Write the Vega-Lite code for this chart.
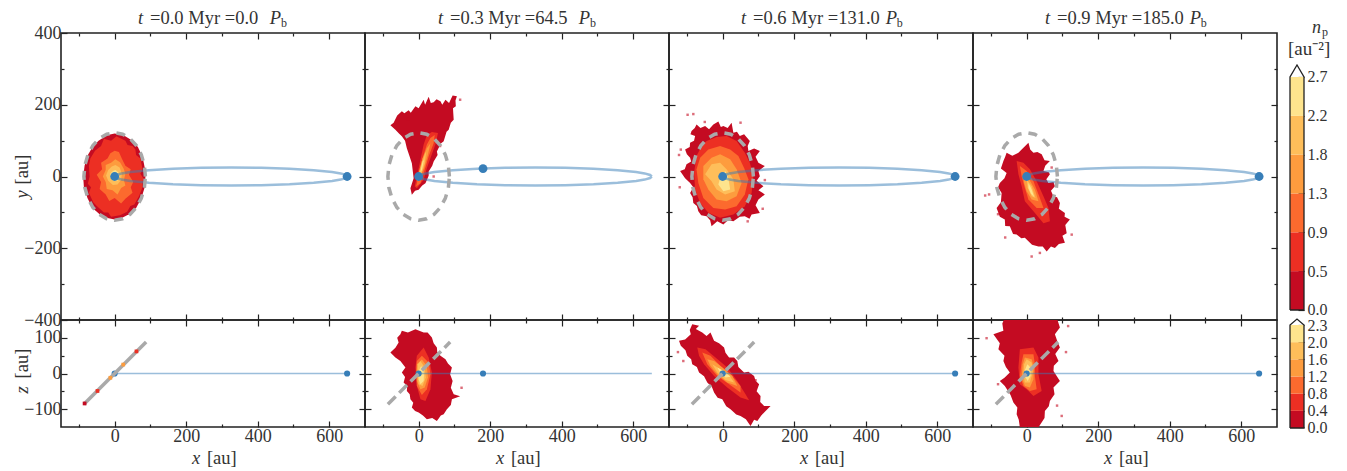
{"$schema":"https://vega.github.io/schema/vega-lite/v6.json","padding":{"left":12,"top":8,"right":0,"bottom":0},"background":"white","config":{"view":{"stroke":"#222","strokeWidth":1.6},"axis":{"grid":false,"domain":false,"tickColor":"#222","tickWidth":1.2,"labelFont":"Liberation Serif","labelColor":"#333","labelFontSize":18,"labelOverlap":false,"labelFlush":false,"zindex":1},"text":{"font":"Liberation Serif","color":"#333","fontSize":18.5}},"datasets":{"contours":[
{"p":"t0","l":0,"x":0,"y":120},{"p":"t0","l":0,"x":25,"y":115},{"p":"t0","l":0,"x":50,"y":100},{"p":"t0","l":0,"x":65,"y":82},{"p":"t0","l":0,"x":78,"y":55},{"p":"t0","l":0,"x":84,"y":25},{"p":"t0","l":0,"x":86,"y":0},{"p":"t0","l":0,"x":84,"y":-30},{"p":"t0","l":0,"x":75,"y":-60},{"p":"t0","l":0,"x":60,"y":-88},{"p":"t0","l":0,"x":40,"y":-105},{"p":"t0","l":0,"x":20,"y":-116},{"p":"t0","l":0,"x":0,"y":-120},{"p":"t0","l":0,"x":-20,"y":-116},{"p":"t0","l":0,"x":-42,"y":-105},{"p":"t0","l":0,"x":-62,"y":-88},{"p":"t0","l":0,"x":-76,"y":-60},{"p":"t0","l":0,"x":-86,"y":-30},{"p":"t0","l":0,"x":-88,"y":0},{"p":"t0","l":0,"x":-84,"y":30},{"p":"t0","l":0,"x":-76,"y":58},{"p":"t0","l":0,"x":-62,"y":82},{"p":"t0","l":0,"x":-45,"y":100},{"p":"t0","l":0,"x":-22,"y":115},
{"p":"t0","l":1,"x":5,"y":112},{"p":"t0","l":1,"x":30,"y":100},{"p":"t0","l":1,"x":36,"y":88},{"p":"t0","l":1,"x":50,"y":85},{"p":"t0","l":1,"x":58,"y":75},{"p":"t0","l":1,"x":60,"y":60},{"p":"t0","l":1,"x":72,"y":50},{"p":"t0","l":1,"x":78,"y":20},{"p":"t0","l":1,"x":72,"y":8},{"p":"t0","l":1,"x":80,"y":-5},{"p":"t0","l":1,"x":76,"y":-35},{"p":"t0","l":1,"x":68,"y":-55},{"p":"t0","l":1,"x":55,"y":-78},{"p":"t0","l":1,"x":44,"y":-82},{"p":"t0","l":1,"x":35,"y":-98},{"p":"t0","l":1,"x":15,"y":-108},{"p":"t0","l":1,"x":-10,"y":-112},{"p":"t0","l":1,"x":-18,"y":-100},{"p":"t0","l":1,"x":-30,"y":-100},{"p":"t0","l":1,"x":-50,"y":-82},{"p":"t0","l":1,"x":-60,"y":-72},{"p":"t0","l":1,"x":-72,"y":-45},{"p":"t0","l":1,"x":-66,"y":-30},{"p":"t0","l":1,"x":-75,"y":-20},{"p":"t0","l":1,"x":-70,"y":0},{"p":"t0","l":1,"x":-72,"y":30},{"p":"t0","l":1,"x":-68,"y":50},{"p":"t0","l":1,"x":-55,"y":72},{"p":"t0","l":1,"x":-38,"y":85},{"p":"t0","l":1,"x":-30,"y":105},{"p":"t0","l":1,"x":-10,"y":100},
{"p":"t0","l":2,"x":0,"y":72},{"p":"t0","l":2,"x":12,"y":68},{"p":"t0","l":2,"x":20,"y":50},{"p":"t0","l":2,"x":30,"y":30},{"p":"t0","l":2,"x":45,"y":20},{"p":"t0","l":2,"x":40,"y":5},{"p":"t0","l":2,"x":52,"y":-15},{"p":"t0","l":2,"x":45,"y":-30},{"p":"t0","l":2,"x":50,"y":-45},{"p":"t0","l":2,"x":30,"y":-62},{"p":"t0","l":2,"x":18,"y":-75},{"p":"t0","l":2,"x":0,"y":-60},{"p":"t0","l":2,"x":-15,"y":-68},{"p":"t0","l":2,"x":-25,"y":-50},{"p":"t0","l":2,"x":-42,"y":-35},{"p":"t0","l":2,"x":-38,"y":-15},{"p":"t0","l":2,"x":-50,"y":5},{"p":"t0","l":2,"x":-35,"y":20},{"p":"t0","l":2,"x":-38,"y":38},{"p":"t0","l":2,"x":-20,"y":50},{"p":"t0","l":2,"x":-12,"y":65},
{"p":"t0","l":3,"x":2,"y":48},{"p":"t0","l":3,"x":15,"y":40},{"p":"t0","l":3,"x":25,"y":22},{"p":"t0","l":3,"x":30,"y":8},{"p":"t0","l":3,"x":26,"y":-10},{"p":"t0","l":3,"x":30,"y":-25},{"p":"t0","l":3,"x":18,"y":-32},{"p":"t0","l":3,"x":8,"y":-50},{"p":"t0","l":3,"x":-6,"y":-38},{"p":"t0","l":3,"x":-22,"y":-35},{"p":"t0","l":3,"x":-25,"y":-15},{"p":"t0","l":3,"x":-33,"y":0},{"p":"t0","l":3,"x":-25,"y":18},{"p":"t0","l":3,"x":-25,"y":32},{"p":"t0","l":3,"x":-10,"y":38},
{"p":"t0","l":4,"x":2,"y":32},{"p":"t0","l":4,"x":14,"y":25},{"p":"t0","l":4,"x":20,"y":8},{"p":"t0","l":4,"x":18,"y":-10},{"p":"t0","l":4,"x":8,"y":-22},{"p":"t0","l":4,"x":-5,"y":-24},{"p":"t0","l":4,"x":-18,"y":-12},{"p":"t0","l":4,"x":-24,"y":3},{"p":"t0","l":4,"x":-18,"y":18},{"p":"t0","l":4,"x":-8,"y":28},
{"p":"t0","l":5,"x":2,"y":18},{"p":"t0","l":5,"x":10,"y":12},{"p":"t0","l":5,"x":13,"y":0},{"p":"t0","l":5,"x":8,"y":-12},{"p":"t0","l":5,"x":-4,"y":-12},{"p":"t0","l":5,"x":-12,"y":-3},{"p":"t0","l":5,"x":-12,"y":8},{"p":"t0","l":5,"x":-5,"y":15},
{"p":"t1","l":0,"x":-79,"y":143},{"p":"t1","l":0,"x":-70,"y":150},{"p":"t1","l":0,"x":-60,"y":170},{"p":"t1","l":0,"x":-47,"y":182},{"p":"t1","l":0,"x":-40,"y":176},{"p":"t1","l":0,"x":-28,"y":185},{"p":"t1","l":0,"x":-22,"y":178},{"p":"t1","l":0,"x":-9,"y":196},{"p":"t1","l":0,"x":0,"y":190},{"p":"t1","l":0,"x":14,"y":214},{"p":"t1","l":0,"x":18,"y":200},{"p":"t1","l":0,"x":28,"y":222},{"p":"t1","l":0,"x":34,"y":205},{"p":"t1","l":0,"x":42,"y":207},{"p":"t1","l":0,"x":50,"y":215},{"p":"t1","l":0,"x":61,"y":210},{"p":"t1","l":0,"x":66,"y":200},{"p":"t1","l":0,"x":75,"y":214},{"p":"t1","l":0,"x":85,"y":205},{"p":"t1","l":0,"x":95,"y":226},{"p":"t1","l":0,"x":107,"y":224},{"p":"t1","l":0,"x":103,"y":212},{"p":"t1","l":0,"x":104,"y":196},{"p":"t1","l":0,"x":96,"y":190},{"p":"t1","l":0,"x":98,"y":158},{"p":"t1","l":0,"x":90,"y":150},{"p":"t1","l":0,"x":84,"y":130},{"p":"t1","l":0,"x":78,"y":125},{"p":"t1","l":0,"x":70,"y":98},{"p":"t1","l":0,"x":62,"y":92},{"p":"t1","l":0,"x":51,"y":70},{"p":"t1","l":0,"x":53,"y":60},{"p":"t1","l":0,"x":42,"y":42},{"p":"t1","l":0,"x":38,"y":30},{"p":"t1","l":0,"x":28,"y":14},{"p":"t1","l":0,"x":28,"y":2},{"p":"t1","l":0,"x":19,"y":-19},{"p":"t1","l":0,"x":10,"y":-25},{"p":"t1","l":0,"x":0,"y":-37},{"p":"t1","l":0,"x":-10,"y":-40},{"p":"t1","l":0,"x":-19,"y":-51},{"p":"t1","l":0,"x":-23,"y":-33},{"p":"t1","l":0,"x":-14,"y":-5},{"p":"t1","l":0,"x":-19,"y":37},{"p":"t1","l":0,"x":-25,"y":55},{"p":"t1","l":0,"x":-33,"y":79},{"p":"t1","l":0,"x":-38,"y":100},{"p":"t1","l":0,"x":-47,"y":112},{"p":"t1","l":0,"x":-55,"y":120},{"p":"t1","l":0,"x":-65,"y":130},
{"p":"t1","l":1,"x":23,"y":116},{"p":"t1","l":1,"x":37,"y":124},{"p":"t1","l":1,"x":54,"y":121},{"p":"t1","l":1,"x":48,"y":93},{"p":"t1","l":1,"x":33,"y":51},{"p":"t1","l":1,"x":23,"y":23},{"p":"t1","l":1,"x":14,"y":-9},{"p":"t1","l":1,"x":-5,"y":-33},{"p":"t1","l":1,"x":-11,"y":-28},{"p":"t1","l":1,"x":-5,"y":0},{"p":"t1","l":1,"x":5,"y":47},{"p":"t1","l":1,"x":14,"y":89},
{"p":"t1","l":2,"x":33,"y":107},{"p":"t1","l":2,"x":45,"y":116},{"p":"t1","l":2,"x":42,"y":93},{"p":"t1","l":2,"x":28,"y":56},{"p":"t1","l":2,"x":17,"y":19},{"p":"t1","l":2,"x":5,"y":-19},{"p":"t1","l":2,"x":-7,"y":-28},{"p":"t1","l":2,"x":0,"y":5},{"p":"t1","l":2,"x":11,"y":51},{"p":"t1","l":2,"x":23,"y":89},
{"p":"t1","l":3,"x":23,"y":79},{"p":"t1","l":3,"x":33,"y":93},{"p":"t1","l":3,"x":26,"y":61},{"p":"t1","l":3,"x":15,"y":23},{"p":"t1","l":3,"x":0,"y":-9},{"p":"t1","l":3,"x":-5,"y":-14},{"p":"t1","l":3,"x":2,"y":19},{"p":"t1","l":3,"x":11,"y":51},
{"p":"t1","l":4,"x":17,"y":61},{"p":"t1","l":4,"x":21,"y":70},{"p":"t1","l":4,"x":17,"y":37},{"p":"t1","l":4,"x":5,"y":0},{"p":"t1","l":4,"x":0,"y":5},{"p":"t1","l":4,"x":9,"y":37},
{"p":"t1","l":5,"x":11,"y":42},{"p":"t1","l":5,"x":15,"y":47},{"p":"t1","l":5,"x":9,"y":19},{"p":"t1","l":5,"x":5,"y":11},{"p":"t1","l":5,"x":7,"y":23},
{"p":"t2","l":0,"x":-73,"y":145},{"p":"t2","l":0,"x":-62,"y":135},{"p":"t2","l":0,"x":-49,"y":141},{"p":"t2","l":0,"x":-38,"y":132},{"p":"t2","l":0,"x":-26,"y":145},{"p":"t2","l":0,"x":-12,"y":153},{"p":"t2","l":0,"x":-5,"y":138},{"p":"t2","l":0,"x":2,"y":141},{"p":"t2","l":0,"x":14,"y":135},{"p":"t2","l":0,"x":25,"y":150},{"p":"t2","l":0,"x":30,"y":122},{"p":"t2","l":0,"x":40,"y":125},{"p":"t2","l":0,"x":48,"y":113},{"p":"t2","l":0,"x":60,"y":118},{"p":"t2","l":0,"x":76,"y":99},{"p":"t2","l":0,"x":70,"y":85},{"p":"t2","l":0,"x":72,"y":71},{"p":"t2","l":0,"x":88,"y":78},{"p":"t2","l":0,"x":104,"y":71},{"p":"t2","l":0,"x":92,"y":55},{"p":"t2","l":0,"x":100,"y":38},{"p":"t2","l":0,"x":118,"y":29},{"p":"t2","l":0,"x":100,"y":15},{"p":"t2","l":0,"x":104,"y":1},{"p":"t2","l":0,"x":95,"y":-12},{"p":"t2","l":0,"x":114,"y":-27},{"p":"t2","l":0,"x":100,"y":-38},{"p":"t2","l":0,"x":118,"y":-50},{"p":"t2","l":0,"x":100,"y":-64},{"p":"t2","l":0,"x":92,"y":-80},{"p":"t2","l":0,"x":104,"y":-102},{"p":"t2","l":0,"x":81,"y":-106},{"p":"t2","l":0,"x":75,"y":-118},{"p":"t2","l":0,"x":62,"y":-111},{"p":"t2","l":0,"x":48,"y":-112},{"p":"t2","l":0,"x":30,"y":-125},{"p":"t2","l":0,"x":15,"y":-122},{"p":"t2","l":0,"x":2,"y":-134},{"p":"t2","l":0,"x":-15,"y":-125},{"p":"t2","l":0,"x":-31,"y":-139},{"p":"t2","l":0,"x":-35,"y":-122},{"p":"t2","l":0,"x":-45,"y":-111},{"p":"t2","l":0,"x":-60,"y":-108},{"p":"t2","l":0,"x":-68,"y":-97},{"p":"t2","l":0,"x":-72,"y":-82},{"p":"t2","l":0,"x":-82,"y":-74},{"p":"t2","l":0,"x":-84,"y":-58},{"p":"t2","l":0,"x":-91,"y":-46},{"p":"t2","l":0,"x":-82,"y":-30},{"p":"t2","l":0,"x":-91,"y":-18},{"p":"t2","l":0,"x":-105,"y":-5},{"p":"t2","l":0,"x":-119,"y":15},{"p":"t2","l":0,"x":-106,"y":20},{"p":"t2","l":0,"x":-101,"y":34},{"p":"t2","l":0,"x":-88,"y":42},{"p":"t2","l":0,"x":-91,"y":52},{"p":"t2","l":0,"x":-100,"y":62},{"p":"t2","l":0,"x":-105,"y":75},{"p":"t2","l":0,"x":-92,"y":82},{"p":"t2","l":0,"x":-91,"y":94},{"p":"t2","l":0,"x":-80,"y":100},{"p":"t2","l":0,"x":-77,"y":113},{"p":"t2","l":0,"x":-90,"y":118},{"p":"t2","l":0,"x":-87,"y":127},{"p":"t2","l":0,"x":-78,"y":135},
{"p":"t2","l":1,"x":-45,"y":99},{"p":"t2","l":1,"x":-17,"y":110},{"p":"t2","l":1,"x":11,"y":113},{"p":"t2","l":1,"x":39,"y":99},{"p":"t2","l":1,"x":62,"y":66},{"p":"t2","l":1,"x":76,"y":38},{"p":"t2","l":1,"x":86,"y":1},{"p":"t2","l":1,"x":81,"y":-46},{"p":"t2","l":1,"x":62,"y":-83},{"p":"t2","l":1,"x":30,"y":-106},{"p":"t2","l":1,"x":-7,"y":-115},{"p":"t2","l":1,"x":-40,"y":-101},{"p":"t2","l":1,"x":-63,"y":-74},{"p":"t2","l":1,"x":-77,"y":-36},{"p":"t2","l":1,"x":-80,"y":10},{"p":"t2","l":1,"x":-73,"y":57},{"p":"t2","l":1,"x":-59,"y":85},
{"p":"t2","l":2,"x":-40,"y":75},{"p":"t2","l":2,"x":-7,"y":85},{"p":"t2","l":2,"x":21,"y":75},{"p":"t2","l":2,"x":44,"y":57},{"p":"t2","l":2,"x":60,"y":24},{"p":"t2","l":2,"x":72,"y":-8},{"p":"t2","l":2,"x":62,"y":-50},{"p":"t2","l":2,"x":39,"y":-83},{"p":"t2","l":2,"x":7,"y":-92},{"p":"t2","l":2,"x":-26,"y":-88},{"p":"t2","l":2,"x":-54,"y":-60},{"p":"t2","l":2,"x":-68,"y":-18},{"p":"t2","l":2,"x":-73,"y":20},{"p":"t2","l":2,"x":-63,"y":52},
{"p":"t2","l":3,"x":-31,"y":52},{"p":"t2","l":3,"x":-7,"y":62},{"p":"t2","l":3,"x":21,"y":48},{"p":"t2","l":3,"x":39,"y":20},{"p":"t2","l":3,"x":53,"y":-18},{"p":"t2","l":3,"x":39,"y":-55},{"p":"t2","l":3,"x":11,"y":-69},{"p":"t2","l":3,"x":-17,"y":-64},{"p":"t2","l":3,"x":-40,"y":-36},{"p":"t2","l":3,"x":-54,"y":-8},{"p":"t2","l":3,"x":-54,"y":29},
{"p":"t2","l":4,"x":-31,"y":34},{"p":"t2","l":4,"x":-7,"y":38},{"p":"t2","l":4,"x":11,"y":20},{"p":"t2","l":4,"x":30,"y":-8},{"p":"t2","l":4,"x":34,"y":-41},{"p":"t2","l":4,"x":7,"y":-50},{"p":"t2","l":4,"x":-17,"y":-36},{"p":"t2","l":4,"x":-31,"y":-13},{"p":"t2","l":4,"x":-49,"y":6},
{"p":"t2","l":5,"x":-7,"y":-4},{"p":"t2","l":5,"x":7,"y":15},{"p":"t2","l":5,"x":16,"y":-4},{"p":"t2","l":5,"x":21,"y":-36},{"p":"t2","l":5,"x":2,"y":-41},{"p":"t2","l":5,"x":-12,"y":-22},
{"p":"t3","l":0,"x":-56,"y":66},{"p":"t3","l":0,"x":-40,"y":58},{"p":"t3","l":0,"x":-23,"y":66},{"p":"t3","l":0,"x":-14,"y":75},{"p":"t3","l":0,"x":-9,"y":80},{"p":"t3","l":0,"x":5,"y":94},{"p":"t3","l":0,"x":10,"y":75},{"p":"t3","l":0,"x":19,"y":66},{"p":"t3","l":0,"x":30,"y":68},{"p":"t3","l":0,"x":42,"y":62},{"p":"t3","l":0,"x":50,"y":45},{"p":"t3","l":0,"x":65,"y":43},{"p":"t3","l":0,"x":52,"y":30},{"p":"t3","l":0,"x":47,"y":15},{"p":"t3","l":0,"x":62,"y":12},{"p":"t3","l":0,"x":65,"y":6},{"p":"t3","l":0,"x":55,"y":-8},{"p":"t3","l":0,"x":61,"y":-18},{"p":"t3","l":0,"x":75,"y":-15},{"p":"t3","l":0,"x":79,"y":-27},{"p":"t3","l":0,"x":68,"y":-40},{"p":"t3","l":0,"x":75,"y":-55},{"p":"t3","l":0,"x":85,"y":-58},{"p":"t3","l":0,"x":93,"y":-74},{"p":"t3","l":0,"x":90,"y":-90},{"p":"t3","l":0,"x":107,"y":-102},{"p":"t3","l":0,"x":106,"y":-112},{"p":"t3","l":0,"x":121,"y":-120},{"p":"t3","l":0,"x":108,"y":-135},{"p":"t3","l":0,"x":112,"y":-158},{"p":"t3","l":0,"x":100,"y":-165},{"p":"t3","l":0,"x":107,"y":-185},{"p":"t3","l":0,"x":90,"y":-188},{"p":"t3","l":0,"x":79,"y":-199},{"p":"t3","l":0,"x":68,"y":-195},{"p":"t3","l":0,"x":56,"y":-209},{"p":"t3","l":0,"x":45,"y":-195},{"p":"t3","l":0,"x":33,"y":-195},{"p":"t3","l":0,"x":15,"y":-190},{"p":"t3","l":0,"x":-5,"y":-171},{"p":"t3","l":0,"x":-15,"y":-172},{"p":"t3","l":0,"x":-28,"y":-162},{"p":"t3","l":0,"x":-38,"y":-160},{"p":"t3","l":0,"x":-47,"y":-139},{"p":"t3","l":0,"x":-60,"y":-138},{"p":"t3","l":0,"x":-61,"y":-120},{"p":"t3","l":0,"x":-75,"y":-112},{"p":"t3","l":0,"x":-84,"y":-88},{"p":"t3","l":0,"x":-72,"y":-72},{"p":"t3","l":0,"x":-70,"y":-46},{"p":"t3","l":0,"x":-80,"y":-30},{"p":"t3","l":0,"x":-75,"y":-18},{"p":"t3","l":0,"x":-62,"y":-5},{"p":"t3","l":0,"x":-56,"y":10},{"p":"t3","l":0,"x":-72,"y":22},{"p":"t3","l":0,"x":-65,"y":43},{"p":"t3","l":0,"x":-60,"y":55},
{"p":"t3","l":1,"x":-28,"y":43},{"p":"t3","l":1,"x":-9,"y":38},{"p":"t3","l":1,"x":9,"y":20},{"p":"t3","l":1,"x":28,"y":-13},{"p":"t3","l":1,"x":47,"y":-55},{"p":"t3","l":1,"x":61,"y":-88},{"p":"t3","l":1,"x":65,"y":-125},{"p":"t3","l":1,"x":47,"y":-130},{"p":"t3","l":1,"x":19,"y":-97},{"p":"t3","l":1,"x":-5,"y":-69},{"p":"t3","l":1,"x":-14,"y":-27},{"p":"t3","l":1,"x":-23,"y":6},
{"p":"t3","l":2,"x":-19,"y":29},{"p":"t3","l":2,"x":0,"y":15},{"p":"t3","l":2,"x":19,"y":-13},{"p":"t3","l":2,"x":37,"y":-60},{"p":"t3","l":2,"x":47,"y":-88},{"p":"t3","l":2,"x":28,"y":-88},{"p":"t3","l":2,"x":5,"y":-64},{"p":"t3","l":2,"x":-5,"y":-32},{"p":"t3","l":2,"x":-14,"y":1},
{"p":"t3","l":3,"x":-9,"y":6},{"p":"t3","l":3,"x":5,"y":-4},{"p":"t3","l":3,"x":23,"y":-36},{"p":"t3","l":3,"x":33,"y":-69},{"p":"t3","l":3,"x":14,"y":-64},{"p":"t3","l":3,"x":0,"y":-41},{"p":"t3","l":3,"x":-7,"y":-18},
{"p":"t3","l":4,"x":0,"y":-8},{"p":"t3","l":4,"x":14,"y":-27},{"p":"t3","l":4,"x":25,"y":-60},{"p":"t3","l":4,"x":14,"y":-55},{"p":"t3","l":4,"x":3,"y":-32},
{"p":"t3","l":5,"x":5,"y":-18},{"p":"t3","l":5,"x":14,"y":-36},{"p":"t3","l":5,"x":21,"y":-57},{"p":"t3","l":5,"x":12,"y":-48},{"p":"t3","l":5,"x":5,"y":-32},
{"p":"b1","l":0,"x":-47,"y":120},{"p":"b1","l":0,"x":-30,"y":115},{"p":"b1","l":0,"x":-9,"y":124},{"p":"b1","l":0,"x":14,"y":115},{"p":"b1","l":0,"x":25,"y":115},{"p":"b1","l":0,"x":37,"y":101},{"p":"b1","l":0,"x":42,"y":85},{"p":"b1","l":0,"x":51,"y":73},{"p":"b1","l":0,"x":52,"y":60},{"p":"b1","l":0,"x":61,"y":50},{"p":"b1","l":0,"x":75,"y":40},{"p":"b1","l":0,"x":82,"y":28},{"p":"b1","l":0,"x":93,"y":17},{"p":"b1","l":0,"x":88,"y":-2},{"p":"b1","l":0,"x":95,"y":-21},{"p":"b1","l":0,"x":90,"y":-40},{"p":"b1","l":0,"x":98,"y":-58},{"p":"b1","l":0,"x":116,"y":-64},{"p":"b1","l":0,"x":93,"y":-72},{"p":"b1","l":0,"x":90,"y":-88},{"p":"b1","l":0,"x":79,"y":-100},{"p":"b1","l":0,"x":70,"y":-114},{"p":"b1","l":0,"x":62,"y":-118},{"p":"b1","l":0,"x":51,"y":-133},{"p":"b1","l":0,"x":38,"y":-125},{"p":"b1","l":0,"x":23,"y":-128},{"p":"b1","l":0,"x":12,"y":-118},{"p":"b1","l":0,"x":0,"y":-109},{"p":"b1","l":0,"x":-10,"y":-105},{"p":"b1","l":0,"x":-19,"y":-95},{"p":"b1","l":0,"x":-15,"y":-82},{"p":"b1","l":0,"x":-23,"y":-72},{"p":"b1","l":0,"x":-25,"y":-58},{"p":"b1","l":0,"x":-33,"y":-49},{"p":"b1","l":0,"x":-32,"y":-36},{"p":"b1","l":0,"x":-42,"y":-25},{"p":"b1","l":0,"x":-38,"y":-10},{"p":"b1","l":0,"x":-47,"y":3},{"p":"b1","l":0,"x":-37,"y":17},{"p":"b1","l":0,"x":-51,"y":35},{"p":"b1","l":0,"x":-65,"y":45},{"p":"b1","l":0,"x":-79,"y":59},{"p":"b1","l":0,"x":-65,"y":72},{"p":"b1","l":0,"x":-56,"y":87},{"p":"b1","l":0,"x":-60,"y":100},{"p":"b1","l":0,"x":-51,"y":110},
{"p":"b1","l":1,"x":14,"y":73},{"p":"b1","l":1,"x":28,"y":45},{"p":"b1","l":1,"x":37,"y":3},{"p":"b1","l":1,"x":33,"y":-44},{"p":"b1","l":1,"x":19,"y":-77},{"p":"b1","l":1,"x":5,"y":-72},{"p":"b1","l":1,"x":-5,"y":-35},{"p":"b1","l":1,"x":-9,"y":17},{"p":"b1","l":1,"x":-5,"y":50},
{"p":"b1","l":2,"x":9,"y":50},{"p":"b1","l":2,"x":28,"y":31},{"p":"b1","l":2,"x":33,"y":-2},{"p":"b1","l":2,"x":23,"y":-44},{"p":"b1","l":2,"x":9,"y":-60},{"p":"b1","l":2,"x":-5,"y":-35},{"p":"b1","l":2,"x":-7,"y":7},{"p":"b1","l":2,"x":-5,"y":35},
{"p":"b1","l":3,"x":9,"y":39},{"p":"b1","l":3,"x":23,"y":21},{"p":"b1","l":3,"x":26,"y":-11},{"p":"b1","l":3,"x":17,"y":-39},{"p":"b1","l":3,"x":5,"y":-44},{"p":"b1","l":3,"x":-5,"y":-21},{"p":"b1","l":3,"x":-5,"y":26},
{"p":"b1","l":4,"x":5,"y":35},{"p":"b1","l":4,"x":17,"y":17},{"p":"b1","l":4,"x":20,"y":-11},{"p":"b1","l":4,"x":11,"y":-35},{"p":"b1","l":4,"x":0,"y":-30},{"p":"b1","l":4,"x":-3,"y":3},{"p":"b1","l":4,"x":-2,"y":26},
{"p":"b1","l":5,"x":7,"y":21},{"p":"b1","l":5,"x":15,"y":3},{"p":"b1","l":5,"x":14,"y":-21},{"p":"b1","l":5,"x":5,"y":-30},{"p":"b1","l":5,"x":0,"y":-16},{"p":"b1","l":5,"x":0,"y":7},
{"p":"b2","l":0,"x":-85,"y":138},{"p":"b2","l":0,"x":-66,"y":134},{"p":"b2","l":0,"x":-75,"y":125},{"p":"b2","l":0,"x":-57,"y":115},{"p":"b2","l":0,"x":-45,"y":105},{"p":"b2","l":0,"x":-34,"y":115},{"p":"b2","l":0,"x":-24,"y":92},{"p":"b2","l":0,"x":-10,"y":85},{"p":"b2","l":0,"x":4,"y":73},{"p":"b2","l":0,"x":8,"y":58},{"p":"b2","l":0,"x":18,"y":45},{"p":"b2","l":0,"x":32,"y":45},{"p":"b2","l":0,"x":41,"y":35},{"p":"b2","l":0,"x":44,"y":18},{"p":"b2","l":0,"x":60,"y":3},{"p":"b2","l":0,"x":72,"y":5},{"p":"b2","l":0,"x":88,"y":-7},{"p":"b2","l":0,"x":92,"y":-20},{"p":"b2","l":0,"x":102,"y":-30},{"p":"b2","l":0,"x":95,"y":-50},{"p":"b2","l":0,"x":106,"y":-63},{"p":"b2","l":0,"x":105,"y":-80},{"p":"b2","l":0,"x":116,"y":-91},{"p":"b2","l":0,"x":134,"y":-91},{"p":"b2","l":0,"x":116,"y":-109},{"p":"b2","l":0,"x":108,"y":-118},{"p":"b2","l":0,"x":97,"y":-133},{"p":"b2","l":0,"x":88,"y":-130},{"p":"b2","l":0,"x":78,"y":-147},{"p":"b2","l":0,"x":65,"y":-128},{"p":"b2","l":0,"x":50,"y":-119},{"p":"b2","l":0,"x":38,"y":-115},{"p":"b2","l":0,"x":22,"y":-100},{"p":"b2","l":0,"x":10,"y":-92},{"p":"b2","l":0,"x":-1,"y":-72},{"p":"b2","l":0,"x":-14,"y":-68},{"p":"b2","l":0,"x":-24,"y":-53},{"p":"b2","l":0,"x":-30,"y":-38},{"p":"b2","l":0,"x":-43,"y":-25},{"p":"b2","l":0,"x":-52,"y":-8},{"p":"b2","l":0,"x":-66,"y":3},{"p":"b2","l":0,"x":-72,"y":18},{"p":"b2","l":0,"x":-85,"y":26},{"p":"b2","l":0,"x":-88,"y":40},{"p":"b2","l":0,"x":-99,"y":50},{"p":"b2","l":0,"x":-104,"y":65},{"p":"b2","l":0,"x":-117,"y":78},{"p":"b2","l":0,"x":-122,"y":92},{"p":"b2","l":0,"x":-105,"y":95},{"p":"b2","l":0,"x":-89,"y":110},{"p":"b2","l":0,"x":-92,"y":122},
{"p":"b2","l":1,"x":-71,"y":73},{"p":"b2","l":1,"x":-48,"y":68},{"p":"b2","l":1,"x":-20,"y":45},{"p":"b2","l":1,"x":13,"y":17},{"p":"b2","l":1,"x":41,"y":-21},{"p":"b2","l":1,"x":64,"y":-58},{"p":"b2","l":1,"x":74,"y":-75},{"p":"b2","l":1,"x":50,"y":-67},{"p":"b2","l":1,"x":13,"y":-39},{"p":"b2","l":1,"x":-24,"y":-7},{"p":"b2","l":1,"x":-52,"y":26},{"p":"b2","l":1,"x":-66,"y":50},
{"p":"b2","l":2,"x":-57,"y":59},{"p":"b2","l":2,"x":-34,"y":50},{"p":"b2","l":2,"x":-6,"y":21},{"p":"b2","l":2,"x":22,"y":-2},{"p":"b2","l":2,"x":50,"y":-35},{"p":"b2","l":2,"x":50,"y":-53},{"p":"b2","l":2,"x":18,"y":-30},{"p":"b2","l":2,"x":-15,"y":-7},{"p":"b2","l":2,"x":-43,"y":26},
{"p":"b2","l":3,"x":-43,"y":40},{"p":"b2","l":3,"x":-24,"y":35},{"p":"b2","l":3,"x":-1,"y":17},{"p":"b2","l":3,"x":27,"y":-7},{"p":"b2","l":3,"x":41,"y":-35},{"p":"b2","l":3,"x":13,"y":-25},{"p":"b2","l":3,"x":-15,"y":-2},{"p":"b2","l":3,"x":-34,"y":21},
{"p":"b2","l":4,"x":-29,"y":26},{"p":"b2","l":4,"x":-6,"y":12},{"p":"b2","l":4,"x":18,"y":-4},{"p":"b2","l":4,"x":32,"y":-25},{"p":"b2","l":4,"x":8,"y":-18},{"p":"b2","l":4,"x":-15,"y":3},
{"p":"b2","l":5,"x":-15,"y":17},{"p":"b2","l":5,"x":4,"y":6},{"p":"b2","l":5,"x":22,"y":-9},{"p":"b2","l":5,"x":8,"y":-11},{"p":"b2","l":5,"x":-7,"y":3},
{"p":"b3","l":0,"x":-61,"y":157},{"p":"b3","l":0,"x":84,"y":157},{"p":"b3","l":0,"x":93,"y":129},{"p":"b3","l":0,"x":79,"y":110},{"p":"b3","l":0,"x":86,"y":90},{"p":"b3","l":0,"x":93,"y":73},{"p":"b3","l":0,"x":80,"y":55},{"p":"b3","l":0,"x":89,"y":35},{"p":"b3","l":0,"x":76,"y":22},{"p":"b3","l":0,"x":75,"y":7},{"p":"b3","l":0,"x":93,"y":-21},{"p":"b3","l":0,"x":75,"y":-39},{"p":"b3","l":0,"x":78,"y":-58},{"p":"b3","l":0,"x":65,"y":-77},{"p":"b3","l":0,"x":62,"y":-92},{"p":"b3","l":0,"x":51,"y":-105},{"p":"b3","l":0,"x":50,"y":-125},{"p":"b3","l":0,"x":33,"y":-151},{"p":"b3","l":0,"x":-19,"y":-151},{"p":"b3","l":0,"x":-22,"y":-130},{"p":"b3","l":0,"x":-28,"y":-114},{"p":"b3","l":0,"x":-26,"y":-95},{"p":"b3","l":0,"x":-37,"y":-81},{"p":"b3","l":0,"x":-45,"y":-60},{"p":"b3","l":0,"x":-61,"y":-35},{"p":"b3","l":0,"x":-75,"y":-21},{"p":"b3","l":0,"x":-62,"y":-12},{"p":"b3","l":0,"x":-47,"y":3},{"p":"b3","l":0,"x":-58,"y":18},{"p":"b3","l":0,"x":-65,"y":35},{"p":"b3","l":0,"x":-62,"y":50},{"p":"b3","l":0,"x":-79,"y":68},{"p":"b3","l":0,"x":-75,"y":85},{"p":"b3","l":0,"x":-93,"y":110},{"p":"b3","l":0,"x":-65,"y":120},{"p":"b3","l":0,"x":-68,"y":140},
{"p":"b3","l":1,"x":-19,"y":68},{"p":"b3","l":1,"x":19,"y":73},{"p":"b3","l":1,"x":33,"y":45},{"p":"b3","l":1,"x":33,"y":-2},{"p":"b3","l":1,"x":42,"y":-49},{"p":"b3","l":1,"x":19,"y":-63},{"p":"b3","l":1,"x":0,"y":-44},{"p":"b3","l":1,"x":-19,"y":-30},{"p":"b3","l":1,"x":-23,"y":17},
{"p":"b3","l":2,"x":-9,"y":54},{"p":"b3","l":2,"x":19,"y":54},{"p":"b3","l":2,"x":23,"y":26},{"p":"b3","l":2,"x":23,"y":-7},{"p":"b3","l":2,"x":28,"y":-44},{"p":"b3","l":2,"x":9,"y":-49},{"p":"b3","l":2,"x":-9,"y":-35},{"p":"b3","l":2,"x":-19,"y":-7},{"p":"b3","l":2,"x":-14,"y":31},
{"p":"b3","l":3,"x":-5,"y":45},{"p":"b3","l":3,"x":14,"y":40},{"p":"b3","l":3,"x":20,"y":17},{"p":"b3","l":3,"x":19,"y":-16},{"p":"b3","l":3,"x":9,"y":-39},{"p":"b3","l":3,"x":-5,"y":-35},{"p":"b3","l":3,"x":-14,"y":-11},{"p":"b3","l":3,"x":-11,"y":26},
{"p":"b3","l":4,"x":0,"y":40},{"p":"b3","l":4,"x":14,"y":31},{"p":"b3","l":4,"x":17,"y":3},{"p":"b3","l":4,"x":9,"y":-25},{"p":"b3","l":4,"x":-5,"y":-25},{"p":"b3","l":4,"x":-9,"y":-2},{"p":"b3","l":4,"x":-7,"y":26},
{"p":"b3","l":5,"x":2,"y":26},{"p":"b3","l":5,"x":11,"y":17},{"p":"b3","l":5,"x":11,"y":-7},{"p":"b3","l":5,"x":3,"y":-21},{"p":"b3","l":5,"x":-5,"y":-9},{"p":"b3","l":5,"x":-4,"y":12}
],
"specks":[
{"p":"t1","l":0,"x":116,"y":214},{"p":"t1","l":0,"x":42,"y":0},{"p":"t1","l":0,"x":60,"y":85},{"p":"t1","l":0,"x":-30,"y":160},
{"p":"t2","l":0,"x":-98,"y":172},{"p":"t2","l":0,"x":-82,"y":174},{"p":"t2","l":0,"x":-50,"y":152},{"p":"t2","l":0,"x":-122,"y":60},{"p":"t2","l":0,"x":-117,"y":75},{"p":"t2","l":0,"x":50,"y":150},{"p":"t2","l":0,"x":118,"y":-10},{"p":"t2","l":0,"x":-120,"y":-30},{"p":"t2","l":0,"x":112,"y":-90},{"p":"t2","l":0,"x":70,"y":-125},
{"p":"t3","l":0,"x":-116,"y":-53},{"p":"t3","l":0,"x":-105,"y":-50},{"p":"t3","l":0,"x":126,"y":-162},{"p":"t3","l":0,"x":14,"y":-223},{"p":"t3","l":0,"x":37,"y":-213},{"p":"t3","l":0,"x":-60,"y":-170},{"p":"t3","l":0,"x":-80,"y":-105},{"p":"t3","l":0,"x":70,"y":25},{"p":"t3","l":0,"x":-80,"y":40},
{"p":"b1","l":0,"x":120,"y":-40},{"p":"b1","l":0,"x":-60,"y":55},
{"p":"b2","l":0,"x":92,"y":-19},{"p":"b2","l":0,"x":-125,"y":60},{"p":"b2","l":0,"x":-110,"y":35},
{"p":"b3","l":0,"x":-112,"y":99},{"p":"b3","l":0,"x":116,"y":133},{"p":"b3","l":0,"x":98,"y":-119},{"p":"b3","l":0,"x":110,"y":60},{"p":"b3","l":0,"x":-80,"y":-30},{"p":"b3","l":0,"x":85,"y":-90}
],
"orbit":[{"x":652,"y":0},{"x":647,"y":4.3},{"x":632,"y":8.6},{"x":608,"y":12.5},{"x":556.5,"y":17.7},{"x":489,"y":21.7},{"x":410,"y":24.1},{"x":326,"y":25},{"x":242,"y":24.1},{"x":163,"y":21.7},{"x":95.5,"y":17.7},{"x":44,"y":12.5},{"x":19.7,"y":8.6},{"x":5,"y":4.3},{"x":0,"y":0},{"x":5,"y":-4.3},{"x":19.7,"y":-8.6},{"x":44,"y":-12.5},{"x":95.5,"y":-17.7},{"x":163,"y":-21.7},{"x":242,"y":-24.1},{"x":326,"y":-25},{"x":410,"y":-24.1},{"x":489,"y":-21.7},{"x":556.5,"y":-17.7},{"x":608,"y":-12.5},{"x":632,"y":-8.6},{"x":647,"y":-4.3},{"x":652,"y":0}],
"orbitz":[{"x":0,"y":0},{"x":652,"y":0}],
"ring":[{"x":86,"y":0},{"x":83.1,"y":31.6},{"x":74.5,"y":61},{"x":60.8,"y":86.3},{"x":43,"y":105.7},{"x":22.3,"y":117.8},{"x":0,"y":122},{"x":-22.3,"y":117.8},{"x":-43,"y":105.7},{"x":-60.8,"y":86.3},{"x":-74.5,"y":61},{"x":-83.1,"y":31.6},{"x":-86,"y":0},{"x":-83.1,"y":-31.6},{"x":-74.5,"y":-61},{"x":-60.8,"y":-86.3},{"x":-43,"y":-105.7},{"x":-22.3,"y":-117.8},{"x":0,"y":-122},{"x":22.3,"y":-117.8},{"x":43,"y":-105.7},{"x":60.8,"y":-86.3},{"x":74.5,"y":-61},{"x":83.1,"y":-31.6},{"x":86,"y":0}],
"ringz":[{"x":-86,"y":-86},{"x":88,"y":88}],
"patches":[{"x":-84,"y":-84,"l":0},{"x":-48,"y":-49,"l":1},{"x":-12,"y":-12,"l":3},{"x":24,"y":25,"l":3},{"x":61,"y":62,"l":1}],
"bodies":[{"p":"t0","x":0,"y":0},{"p":"t0","x":650,"y":0},{"p":"t1","x":0,"y":0},{"p":"t1","x":180,"y":22},{"p":"t2","x":0,"y":0},{"p":"t2","x":650,"y":0},{"p":"t3","x":0,"y":0},{"p":"t3","x":650,"y":0},{"p":"b0","x":0,"y":0},{"p":"b0","x":650,"y":0},{"p":"b1","x":0,"y":0},{"p":"b1","x":180,"y":0},{"p":"b2","x":0,"y":0},{"p":"b2","x":650,"y":0},{"p":"b3","x":0,"y":0},{"p":"b3","x":650,"y":0}],
"text":[
{"p":"t0","k":"i","x":65,"y":424,"t":"t"},{"p":"t0","k":"r","x":99,"y":424,"t":"=0.0 Myr =0.0"},{"p":"t0","k":"i","x":434,"y":424,"t":"P"},{"p":"t0","k":"s","x":465,"y":417,"t":"b"},
{"p":"t1","k":"i","x":54,"y":424,"t":"t"},{"p":"t1","k":"r","x":88,"y":424,"t":"=0.3 Myr =64.5"},{"p":"t1","k":"i","x":448,"y":424,"t":"P"},{"p":"t1","k":"s","x":479,"y":417,"t":"b"},
{"p":"t2","k":"i","x":51,"y":424,"t":"t"},{"p":"t2","k":"r","x":85,"y":424,"t":"=0.6 Myr =131.0"},{"p":"t2","k":"i","x":456,"y":424,"t":"P"},{"p":"t2","k":"s","x":487,"y":417,"t":"b"},
{"p":"t3","k":"i","x":51,"y":424,"t":"t"},{"p":"t3","k":"r","x":85,"y":424,"t":"=0.9 Myr =185.0"},{"p":"t3","k":"i","x":456,"y":424,"t":"P"},{"p":"t3","k":"s","x":487,"y":417,"t":"b"},
{"p":"t0","k":"ri","x":-242,"y":-61,"t":"y"},{"p":"t0","k":"rr","x":-242,"y":-22,"t":"[au]"},
{"p":"b0","k":"ri","x":-242,"y":-56,"t":"z"},{"p":"b0","k":"rr","x":-242,"y":-14,"t":"[au]"},
{"p":"b0","k":"i","x":216,"y":-255,"t":"x"},{"p":"b0","k":"r","x":258,"y":-255,"t":"[au]"},
{"p":"b1","k":"i","x":216,"y":-255,"t":"x"},{"p":"b1","k":"r","x":258,"y":-255,"t":"[au]"},
{"p":"b2","k":"i","x":216,"y":-255,"t":"x"},{"p":"b2","k":"r","x":258,"y":-255,"t":"[au]"},
{"p":"b3","k":"i","x":216,"y":-255,"t":"x"},{"p":"b3","k":"r","x":258,"y":-255,"t":"[au]"}
],
"bandsTop":[{"a":13,"b":27,"lo":0,"hi":0.45,"l":0},{"a":13,"b":27,"lo":0.45,"hi":0.9,"l":1},{"a":13,"b":27,"lo":0.9,"hi":1.35,"l":2},{"a":13,"b":27,"lo":1.35,"hi":1.8,"l":3},{"a":13,"b":27,"lo":1.8,"hi":2.25,"l":4},{"a":13,"b":27,"lo":2.25,"hi":2.7,"l":5}],
"bandsBot":[{"a":13,"b":27,"lo":0,"hi":0.3833,"l":0},{"a":13,"b":27,"lo":0.3833,"hi":0.7667,"l":1},{"a":13,"b":27,"lo":0.7667,"hi":1.15,"l":2},{"a":13,"b":27,"lo":1.15,"hi":1.5333,"l":3},{"a":13,"b":27,"lo":1.5333,"hi":1.9167,"l":4},{"a":13,"b":27,"lo":1.9167,"hi":2.3,"l":5}],
"outlineTop":[{"x":13,"y":0},{"x":27,"y":0},{"x":27,"y":2.7},{"x":20,"y":2.839},{"x":13,"y":2.7},{"x":13,"y":0}],
"outlineBot":[{"x":13,"y":0},{"x":27,"y":0},{"x":27,"y":2.3},{"x":20,"y":2.434},{"x":13,"y":2.3},{"x":13,"y":0}],
"cbText":[{"k":"i","x":35,"y":3.21,"t":"n"},{"k":"s","x":45,"y":3.175,"t":"p"},{"k":"r","x":11,"y":2.955,"t":"[au⁻²]"}]
},
"concat":[
{"width":304,"height":287,"resolve":{"axis":{"x":"independent","y":"independent"}},"encoding":{"x":{"field":"x","type":"quantitative","scale":{"domain":[-150,700]},"axis":null},"y":{"field":"y","type":"quantitative","scale":{"domain":[-400,400]},"axis":null}},"layer":[
{"data":{"name":"contours"},"transform":[{"filter":"datum.p=='t0'"}],"mark":{"type":"line","clip":true,"strokeWidth":0,"order":false},"encoding":{"x":{"field":"x","type":"quantitative","scale":{"domain":[-150,700]},"axis":{"orient":"bottom","title":null,"labels":false,"values":[-100,0,100,200,300,400,500,600],"tickSize":{"condition":{"test":"datum.value%200==0","value":-6},"value":-3}}},"y":{"field":"y","type":"quantitative","scale":{"domain":[-400,400]},"axis":{"orient":"left","title":null,"values":[-400,-300,-200,-100,0,100,200,300,400],"labelExpr":"datum.value%200==0?datum.label:''","labelPadding":6,"tickSize":{"condition":{"test":"datum.value%200==0","value":-6},"value":-3}}},"fill":{"field":"l","type":"nominal","scale":{"domain":[0,1,2,3,4,5],"range":["#C40B22","#EC2F23","#FC6A2E","#FD9C3E","#FEBE5A","#FEE48D"]},"legend":null},"detail":{"field":"l"}}},
{"data":{"name":"orbit"},"mark":{"type":"line","order":false,"stroke":"#377eb8","strokeOpacity":0.5,"strokeWidth":2.5},"encoding":{"x":{"field":"x","type":"quantitative","scale":{"domain":[-150,700]},"axis":{"orient":"top","title":null,"labels":false,"values":[-100,0,100,200,300,400,500,600],"tickSize":{"condition":{"test":"datum.value%200==0","value":-6},"value":-3}}},"y":{"field":"y","type":"quantitative","scale":{"domain":[-400,400]},"axis":{"orient":"right","title":null,"labels":false,"values":[-300,-200,-100,0,100,200,300],"tickSize":{"condition":{"test":"datum.value%200==0","value":-6},"value":-3}}}}},
{"data":{"name":"bodies"},"transform":[{"filter":"datum.p=='t0'"}],"mark":{"type":"circle","size":78,"opacity":1,"color":"#377eb8"}},
{"data":{"name":"ring"},"mark":{"type":"line","order":false,"stroke":"#a9a9a9","strokeWidth":3.5,"strokeDash":[9,7]}},
{"data":{"name":"text"},"transform":[{"filter":"datum.p=='t0'&&datum.k=='r'"}],"mark":{"type":"text","align":"left","baseline":"alphabetic"},"encoding":{"text":{"field":"t"}}},
{"data":{"name":"text"},"transform":[{"filter":"datum.p=='t0'&&datum.k=='i'"}],"mark":{"type":"text","align":"left","baseline":"alphabetic","fontStyle":"italic"},"encoding":{"text":{"field":"t"}}},
{"data":{"name":"text"},"transform":[{"filter":"datum.p=='t0'&&datum.k=='s'"}],"mark":{"type":"text","align":"left","baseline":"alphabetic","fontSize":12},"encoding":{"text":{"field":"t"}}},
{"data":{"name":"text"},"transform":[{"filter":"datum.p=='t0'&&datum.k=='rr'"}],"mark":{"type":"text","align":"left","baseline":"alphabetic","angle":270},"encoding":{"text":{"field":"t"}}},
{"data":{"name":"text"},"transform":[{"filter":"datum.p=='t0'&&datum.k=='ri'"}],"mark":{"type":"text","align":"left","baseline":"alphabetic","angle":270,"fontStyle":"italic"},"encoding":{"text":{"field":"t"}}}
]},
{"width":304,"height":287,"resolve":{"axis":{"x":"independent","y":"independent"}},"encoding":{"x":{"field":"x","type":"quantitative","scale":{"domain":[-150,700]},"axis":null},"y":{"field":"y","type":"quantitative","scale":{"domain":[-400,400]},"axis":null}},"layer":[
{"data":{"name":"contours"},"transform":[{"filter":"datum.p=='t1'"}],"mark":{"type":"line","clip":true,"strokeWidth":0,"order":false},"encoding":{"x":{"field":"x","type":"quantitative","scale":{"domain":[-150,700]},"axis":{"orient":"bottom","title":null,"labels":false,"values":[-100,0,100,200,300,400,500,600],"tickSize":{"condition":{"test":"datum.value%200==0","value":-6},"value":-3}}},"y":{"field":"y","type":"quantitative","scale":{"domain":[-400,400]},"axis":{"orient":"left","title":null,"labels":false,"values":[-300,-200,-100,0,100,200,300],"tickSize":{"condition":{"test":"datum.value%200==0","value":-6},"value":-3}}},"fill":{"field":"l","type":"nominal","scale":{"domain":[0,1,2,3,4,5],"range":["#C40B22","#EC2F23","#FC6A2E","#FD9C3E","#FEBE5A","#FEE48D"]},"legend":null},"detail":{"field":"l"}}},
{"data":{"name":"specks"},"transform":[{"filter":"datum.p=='t1'"}],"mark":{"type":"square","size":6,"opacity":0.6,"color":"#C40B22"}},
{"data":{"name":"orbit"},"mark":{"type":"line","order":false,"stroke":"#377eb8","strokeOpacity":0.5,"strokeWidth":2.5},"encoding":{"x":{"field":"x","type":"quantitative","scale":{"domain":[-150,700]},"axis":{"orient":"top","title":null,"labels":false,"values":[-100,0,100,200,300,400,500,600],"tickSize":{"condition":{"test":"datum.value%200==0","value":-6},"value":-3}}},"y":{"field":"y","type":"quantitative","scale":{"domain":[-400,400]},"axis":{"orient":"right","title":null,"labels":false,"values":[-300,-200,-100,0,100,200,300],"tickSize":{"condition":{"test":"datum.value%200==0","value":-6},"value":-3}}}}},
{"data":{"name":"bodies"},"transform":[{"filter":"datum.p=='t1'"}],"mark":{"type":"circle","size":78,"opacity":1,"color":"#377eb8"}},
{"data":{"name":"ring"},"mark":{"type":"line","order":false,"stroke":"#a9a9a9","strokeWidth":3.5,"strokeDash":[9,7]}},
{"data":{"name":"text"},"transform":[{"filter":"datum.p=='t1'&&datum.k=='r'"}],"mark":{"type":"text","align":"left","baseline":"alphabetic"},"encoding":{"text":{"field":"t"}}},
{"data":{"name":"text"},"transform":[{"filter":"datum.p=='t1'&&datum.k=='i'"}],"mark":{"type":"text","align":"left","baseline":"alphabetic","fontStyle":"italic"},"encoding":{"text":{"field":"t"}}},
{"data":{"name":"text"},"transform":[{"filter":"datum.p=='t1'&&datum.k=='s'"}],"mark":{"type":"text","align":"left","baseline":"alphabetic","fontSize":12},"encoding":{"text":{"field":"t"}}}
]},
{"width":304,"height":287,"resolve":{"axis":{"x":"independent","y":"independent"}},"encoding":{"x":{"field":"x","type":"quantitative","scale":{"domain":[-150,700]},"axis":null},"y":{"field":"y","type":"quantitative","scale":{"domain":[-400,400]},"axis":null}},"layer":[
{"data":{"name":"contours"},"transform":[{"filter":"datum.p=='t2'"}],"mark":{"type":"line","clip":true,"strokeWidth":0,"order":false},"encoding":{"x":{"field":"x","type":"quantitative","scale":{"domain":[-150,700]},"axis":{"orient":"bottom","title":null,"labels":false,"values":[-100,0,100,200,300,400,500,600],"tickSize":{"condition":{"test":"datum.value%200==0","value":-6},"value":-3}}},"y":{"field":"y","type":"quantitative","scale":{"domain":[-400,400]},"axis":{"orient":"left","title":null,"labels":false,"values":[-300,-200,-100,0,100,200,300],"tickSize":{"condition":{"test":"datum.value%200==0","value":-6},"value":-3}}},"fill":{"field":"l","type":"nominal","scale":{"domain":[0,1,2,3,4,5],"range":["#C40B22","#EC2F23","#FC6A2E","#FD9C3E","#FEBE5A","#FEE48D"]},"legend":null},"detail":{"field":"l"}}},
{"data":{"name":"specks"},"transform":[{"filter":"datum.p=='t2'"}],"mark":{"type":"square","size":6,"opacity":0.6,"color":"#C40B22"}},
{"data":{"name":"orbit"},"mark":{"type":"line","order":false,"stroke":"#377eb8","strokeOpacity":0.5,"strokeWidth":2.5},"encoding":{"x":{"field":"x","type":"quantitative","scale":{"domain":[-150,700]},"axis":{"orient":"top","title":null,"labels":false,"values":[-100,0,100,200,300,400,500,600],"tickSize":{"condition":{"test":"datum.value%200==0","value":-6},"value":-3}}},"y":{"field":"y","type":"quantitative","scale":{"domain":[-400,400]},"axis":{"orient":"right","title":null,"labels":false,"values":[-300,-200,-100,0,100,200,300],"tickSize":{"condition":{"test":"datum.value%200==0","value":-6},"value":-3}}}}},
{"data":{"name":"bodies"},"transform":[{"filter":"datum.p=='t2'"}],"mark":{"type":"circle","size":78,"opacity":1,"color":"#377eb8"}},
{"data":{"name":"ring"},"mark":{"type":"line","order":false,"stroke":"#a9a9a9","strokeWidth":3.5,"strokeDash":[9,7]}},
{"data":{"name":"text"},"transform":[{"filter":"datum.p=='t2'&&datum.k=='r'"}],"mark":{"type":"text","align":"left","baseline":"alphabetic"},"encoding":{"text":{"field":"t"}}},
{"data":{"name":"text"},"transform":[{"filter":"datum.p=='t2'&&datum.k=='i'"}],"mark":{"type":"text","align":"left","baseline":"alphabetic","fontStyle":"italic"},"encoding":{"text":{"field":"t"}}},
{"data":{"name":"text"},"transform":[{"filter":"datum.p=='t2'&&datum.k=='s'"}],"mark":{"type":"text","align":"left","baseline":"alphabetic","fontSize":12},"encoding":{"text":{"field":"t"}}}
]},
{"width":304,"height":287,"resolve":{"axis":{"x":"independent","y":"independent"}},"encoding":{"x":{"field":"x","type":"quantitative","scale":{"domain":[-150,700]},"axis":null},"y":{"field":"y","type":"quantitative","scale":{"domain":[-400,400]},"axis":null}},"layer":[
{"data":{"name":"contours"},"transform":[{"filter":"datum.p=='t3'"}],"mark":{"type":"line","clip":true,"strokeWidth":0,"order":false},"encoding":{"x":{"field":"x","type":"quantitative","scale":{"domain":[-150,700]},"axis":{"orient":"bottom","title":null,"labels":false,"values":[-100,0,100,200,300,400,500,600],"tickSize":{"condition":{"test":"datum.value%200==0","value":-6},"value":-3}}},"y":{"field":"y","type":"quantitative","scale":{"domain":[-400,400]},"axis":{"orient":"left","title":null,"labels":false,"values":[-300,-200,-100,0,100,200,300],"tickSize":{"condition":{"test":"datum.value%200==0","value":-6},"value":-3}}},"fill":{"field":"l","type":"nominal","scale":{"domain":[0,1,2,3,4,5],"range":["#C40B22","#EC2F23","#FC6A2E","#FD9C3E","#FEBE5A","#FEE48D"]},"legend":null},"detail":{"field":"l"}}},
{"data":{"name":"specks"},"transform":[{"filter":"datum.p=='t3'"}],"mark":{"type":"square","size":6,"opacity":0.6,"color":"#C40B22"}},
{"data":{"name":"orbit"},"mark":{"type":"line","order":false,"stroke":"#377eb8","strokeOpacity":0.5,"strokeWidth":2.5},"encoding":{"x":{"field":"x","type":"quantitative","scale":{"domain":[-150,700]},"axis":{"orient":"top","title":null,"labels":false,"values":[-100,0,100,200,300,400,500,600],"tickSize":{"condition":{"test":"datum.value%200==0","value":-6},"value":-3}}},"y":{"field":"y","type":"quantitative","scale":{"domain":[-400,400]},"axis":{"orient":"right","title":null,"labels":false,"values":[-300,-200,-100,0,100,200,300],"tickSize":{"condition":{"test":"datum.value%200==0","value":-6},"value":-3}}}}},
{"data":{"name":"bodies"},"transform":[{"filter":"datum.p=='t3'"}],"mark":{"type":"circle","size":78,"opacity":1,"color":"#377eb8"}},
{"data":{"name":"ring"},"mark":{"type":"line","order":false,"stroke":"#a9a9a9","strokeWidth":3.5,"strokeDash":[9,7]}},
{"data":{"name":"text"},"transform":[{"filter":"datum.p=='t3'&&datum.k=='r'"}],"mark":{"type":"text","align":"left","baseline":"alphabetic"},"encoding":{"text":{"field":"t"}}},
{"data":{"name":"text"},"transform":[{"filter":"datum.p=='t3'&&datum.k=='i'"}],"mark":{"type":"text","align":"left","baseline":"alphabetic","fontStyle":"italic"},"encoding":{"text":{"field":"t"}}},
{"data":{"name":"text"},"transform":[{"filter":"datum.p=='t3'&&datum.k=='s'"}],"mark":{"type":"text","align":"left","baseline":"alphabetic","fontSize":12},"encoding":{"text":{"field":"t"}}}
]},
{"width":27,"height":287,"view":{"stroke":null},"resolve":{"axis":{"x":"independent","y":"independent"}},"encoding":{"x":{"field":"x","type":"quantitative","scale":{"domain":[0,27]},"axis":null},"y":{"field":"y","type":"quantitative","scale":{"domain":[-0.1159,3.2098]},"axis":null}},"layer":[
{"data":{"name":"bandsTop"},"mark":{"type":"rect"},"encoding":{"x":{"field":"a","type":"quantitative","scale":{"domain":[0,27]},"axis":null},"x2":{"field":"b"},"y":{"field":"lo","type":"quantitative","scale":{"domain":[-0.1159,3.2098]},"axis":{"orient":"right","title":null,"values":[0,0.45,0.9,1.35,1.8,2.25,2.7],"labelExpr":"['0.0','0.5','0.9','1.3','1.8','2.2','2.7'][round(datum.value/0.45)]","labelFontSize":16,"labelPadding":9,"tickSize":-6}},"y2":{"field":"hi"},"fill":{"field":"l","type":"nominal","scale":{"domain":[0,1,2,3,4,5],"range":["#C40B22","#EC2F23","#FC6A2E","#FD9C3E","#FEBE5A","#FEE48D"]},"legend":null}}},
{"data":{"name":"outlineTop"},"mark":{"type":"line","order":false,"stroke":"#222","strokeWidth":1.3}},
{"data":{"name":"cbText"},"transform":[{"filter":"datum.k=='r'"}],"mark":{"type":"text","align":"left","baseline":"alphabetic","fontSize":19},"encoding":{"text":{"field":"t"}}},
{"data":{"name":"cbText"},"transform":[{"filter":"datum.k=='i'"}],"mark":{"type":"text","align":"left","baseline":"alphabetic","fontStyle":"italic","fontSize":18},"encoding":{"text":{"field":"t"}}},
{"data":{"name":"cbText"},"transform":[{"filter":"datum.k=='s'"}],"mark":{"type":"text","align":"left","baseline":"alphabetic","fontSize":12},"encoding":{"text":{"field":"t"}}}
]},
{"width":304,"height":107,"resolve":{"axis":{"x":"independent","y":"independent"}},"encoding":{"x":{"field":"x","type":"quantitative","scale":{"domain":[-150,700]},"axis":null},"y":{"field":"y","type":"quantitative","scale":{"domain":[-150,150]},"axis":null}},"layer":[
{"data":{"name":"orbitz"},"mark":{"type":"line","order":false,"stroke":"#377eb8","strokeOpacity":0.5,"strokeWidth":1.6},"encoding":{"x":{"field":"x","type":"quantitative","scale":{"domain":[-150,700]},"axis":{"orient":"bottom","title":null,"values":[-100,0,100,200,300,400,500,600],"labelExpr":"datum.value%200==0?datum.label:''","labelPadding":6,"tickSize":{"condition":{"test":"datum.value%200==0","value":-6},"value":-3}}},"y":{"field":"y","type":"quantitative","scale":{"domain":[-150,150]},"axis":{"orient":"left","title":null,"values":[-100,-50,0,50,100],"labelExpr":"datum.value%100==0?datum.label:''","labelPadding":6,"tickSize":{"condition":{"test":"datum.value%100==0","value":-6},"value":-3}}}}},
{"data":{"name":"bodies"},"transform":[{"filter":"datum.p=='b0'"}],"mark":{"type":"circle","size":38,"opacity":1,"color":"#377eb8"},"encoding":{"x":{"field":"x","type":"quantitative","scale":{"domain":[-150,700]},"axis":{"orient":"top","title":null,"labels":false,"values":[-100,0,100,200,300,400,500,600],"tickSize":{"condition":{"test":"datum.value%200==0","value":-6},"value":-3}}},"y":{"field":"y","type":"quantitative","scale":{"domain":[-150,150]},"axis":{"orient":"right","title":null,"labels":false,"values":[-100,-50,0,50,100],"tickSize":{"condition":{"test":"datum.value%100==0","value":-6},"value":-3}}}}},
{"data":{"name":"ringz"},"mark":{"type":"line","order":false,"stroke":"#a9a9a9","strokeWidth":3.5}},
{"data":{"name":"patches"},"mark":{"type":"point","shape":"square","size":14,"filled":true,"opacity":1},"encoding":{"fill":{"field":"l","type":"nominal","scale":{"domain":[0,1,2,3,4,5],"range":["#C40B22","#EC2F23","#FC6A2E","#FD9C3E","#FEBE5A","#FEE48D"]},"legend":null}}},
{"data":{"name":"text"},"transform":[{"filter":"datum.p=='b0'&&datum.k=='r'"}],"mark":{"type":"text","align":"left","baseline":"alphabetic"},"encoding":{"text":{"field":"t"}}},
{"data":{"name":"text"},"transform":[{"filter":"datum.p=='b0'&&datum.k=='i'"}],"mark":{"type":"text","align":"left","baseline":"alphabetic","fontStyle":"italic"},"encoding":{"text":{"field":"t"}}},
{"data":{"name":"text"},"transform":[{"filter":"datum.p=='b0'&&datum.k=='rr'"}],"mark":{"type":"text","align":"left","baseline":"alphabetic","angle":270},"encoding":{"text":{"field":"t"}}},
{"data":{"name":"text"},"transform":[{"filter":"datum.p=='b0'&&datum.k=='ri'"}],"mark":{"type":"text","align":"left","baseline":"alphabetic","angle":270,"fontStyle":"italic"},"encoding":{"text":{"field":"t"}}}
]},
{"width":304,"height":107,"resolve":{"axis":{"x":"independent","y":"independent"}},"encoding":{"x":{"field":"x","type":"quantitative","scale":{"domain":[-150,700]},"axis":null},"y":{"field":"y","type":"quantitative","scale":{"domain":[-150,150]},"axis":null}},"layer":[
{"data":{"name":"contours"},"transform":[{"filter":"datum.p=='b1'"}],"mark":{"type":"line","clip":true,"strokeWidth":0,"order":false},"encoding":{"x":{"field":"x","type":"quantitative","scale":{"domain":[-150,700]},"axis":{"orient":"bottom","title":null,"values":[-100,0,100,200,300,400,500,600],"labelExpr":"datum.value%200==0?datum.label:''","labelPadding":6,"tickSize":{"condition":{"test":"datum.value%200==0","value":-6},"value":-3}}},"y":{"field":"y","type":"quantitative","scale":{"domain":[-150,150]},"axis":{"orient":"left","title":null,"labels":false,"values":[-100,-50,0,50,100],"tickSize":{"condition":{"test":"datum.value%100==0","value":-6},"value":-3}}},"fill":{"field":"l","type":"nominal","scale":{"domain":[0,1,2,3,4,5],"range":["#C40B22","#EC2F23","#FC6A2E","#FD9C3E","#FEBE5A","#FEE48D"]},"legend":null},"detail":{"field":"l"}}},
{"data":{"name":"specks"},"transform":[{"filter":"datum.p=='b1'"}],"mark":{"type":"square","size":6,"opacity":0.6,"color":"#C40B22"}},
{"data":{"name":"orbitz"},"mark":{"type":"line","order":false,"stroke":"#377eb8","strokeOpacity":0.5,"strokeWidth":1.6},"encoding":{"x":{"field":"x","type":"quantitative","scale":{"domain":[-150,700]},"axis":{"orient":"top","title":null,"labels":false,"values":[-100,0,100,200,300,400,500,600],"tickSize":{"condition":{"test":"datum.value%200==0","value":-6},"value":-3}}},"y":{"field":"y","type":"quantitative","scale":{"domain":[-150,150]},"axis":{"orient":"right","title":null,"labels":false,"values":[-100,-50,0,50,100],"tickSize":{"condition":{"test":"datum.value%100==0","value":-6},"value":-3}}}}},
{"data":{"name":"bodies"},"transform":[{"filter":"datum.p=='b1'"}],"mark":{"type":"circle","size":38,"opacity":1,"color":"#377eb8"}},
{"data":{"name":"ringz"},"mark":{"type":"line","order":false,"stroke":"#a9a9a9","strokeWidth":3.5,"strokeDash":[11,5]}},
{"data":{"name":"text"},"transform":[{"filter":"datum.p=='b1'&&datum.k=='r'"}],"mark":{"type":"text","align":"left","baseline":"alphabetic"},"encoding":{"text":{"field":"t"}}},
{"data":{"name":"text"},"transform":[{"filter":"datum.p=='b1'&&datum.k=='i'"}],"mark":{"type":"text","align":"left","baseline":"alphabetic","fontStyle":"italic"},"encoding":{"text":{"field":"t"}}}
]},
{"width":304,"height":107,"resolve":{"axis":{"x":"independent","y":"independent"}},"encoding":{"x":{"field":"x","type":"quantitative","scale":{"domain":[-150,700]},"axis":null},"y":{"field":"y","type":"quantitative","scale":{"domain":[-150,150]},"axis":null}},"layer":[
{"data":{"name":"contours"},"transform":[{"filter":"datum.p=='b2'"}],"mark":{"type":"line","clip":true,"strokeWidth":0,"order":false},"encoding":{"x":{"field":"x","type":"quantitative","scale":{"domain":[-150,700]},"axis":{"orient":"bottom","title":null,"values":[-100,0,100,200,300,400,500,600],"labelExpr":"datum.value%200==0?datum.label:''","labelPadding":6,"tickSize":{"condition":{"test":"datum.value%200==0","value":-6},"value":-3}}},"y":{"field":"y","type":"quantitative","scale":{"domain":[-150,150]},"axis":{"orient":"left","title":null,"labels":false,"values":[-100,-50,0,50,100],"tickSize":{"condition":{"test":"datum.value%100==0","value":-6},"value":-3}}},"fill":{"field":"l","type":"nominal","scale":{"domain":[0,1,2,3,4,5],"range":["#C40B22","#EC2F23","#FC6A2E","#FD9C3E","#FEBE5A","#FEE48D"]},"legend":null},"detail":{"field":"l"}}},
{"data":{"name":"specks"},"transform":[{"filter":"datum.p=='b2'"}],"mark":{"type":"square","size":6,"opacity":0.6,"color":"#C40B22"}},
{"data":{"name":"orbitz"},"mark":{"type":"line","order":false,"stroke":"#377eb8","strokeOpacity":0.5,"strokeWidth":1.6},"encoding":{"x":{"field":"x","type":"quantitative","scale":{"domain":[-150,700]},"axis":{"orient":"top","title":null,"labels":false,"values":[-100,0,100,200,300,400,500,600],"tickSize":{"condition":{"test":"datum.value%200==0","value":-6},"value":-3}}},"y":{"field":"y","type":"quantitative","scale":{"domain":[-150,150]},"axis":{"orient":"right","title":null,"labels":false,"values":[-100,-50,0,50,100],"tickSize":{"condition":{"test":"datum.value%100==0","value":-6},"value":-3}}}}},
{"data":{"name":"bodies"},"transform":[{"filter":"datum.p=='b2'"}],"mark":{"type":"circle","size":38,"opacity":1,"color":"#377eb8"}},
{"data":{"name":"ringz"},"mark":{"type":"line","order":false,"stroke":"#a9a9a9","strokeWidth":3.5,"strokeDash":[11,5]}},
{"data":{"name":"text"},"transform":[{"filter":"datum.p=='b2'&&datum.k=='r'"}],"mark":{"type":"text","align":"left","baseline":"alphabetic"},"encoding":{"text":{"field":"t"}}},
{"data":{"name":"text"},"transform":[{"filter":"datum.p=='b2'&&datum.k=='i'"}],"mark":{"type":"text","align":"left","baseline":"alphabetic","fontStyle":"italic"},"encoding":{"text":{"field":"t"}}}
]},
{"width":304,"height":107,"resolve":{"axis":{"x":"independent","y":"independent"}},"encoding":{"x":{"field":"x","type":"quantitative","scale":{"domain":[-150,700]},"axis":null},"y":{"field":"y","type":"quantitative","scale":{"domain":[-150,150]},"axis":null}},"layer":[
{"data":{"name":"contours"},"transform":[{"filter":"datum.p=='b3'"}],"mark":{"type":"line","clip":true,"strokeWidth":0,"order":false},"encoding":{"x":{"field":"x","type":"quantitative","scale":{"domain":[-150,700]},"axis":{"orient":"bottom","title":null,"values":[-100,0,100,200,300,400,500,600],"labelExpr":"datum.value%200==0?datum.label:''","labelPadding":6,"tickSize":{"condition":{"test":"datum.value%200==0","value":-6},"value":-3}}},"y":{"field":"y","type":"quantitative","scale":{"domain":[-150,150]},"axis":{"orient":"left","title":null,"labels":false,"values":[-100,-50,0,50,100],"tickSize":{"condition":{"test":"datum.value%100==0","value":-6},"value":-3}}},"fill":{"field":"l","type":"nominal","scale":{"domain":[0,1,2,3,4,5],"range":["#C40B22","#EC2F23","#FC6A2E","#FD9C3E","#FEBE5A","#FEE48D"]},"legend":null},"detail":{"field":"l"}}},
{"data":{"name":"specks"},"transform":[{"filter":"datum.p=='b3'"}],"mark":{"type":"square","size":6,"opacity":0.6,"color":"#C40B22"}},
{"data":{"name":"orbitz"},"mark":{"type":"line","order":false,"stroke":"#377eb8","strokeOpacity":0.5,"strokeWidth":1.6},"encoding":{"x":{"field":"x","type":"quantitative","scale":{"domain":[-150,700]},"axis":{"orient":"top","title":null,"labels":false,"values":[-100,0,100,200,300,400,500,600],"tickSize":{"condition":{"test":"datum.value%200==0","value":-6},"value":-3}}},"y":{"field":"y","type":"quantitative","scale":{"domain":[-150,150]},"axis":{"orient":"right","title":null,"labels":false,"values":[-100,-50,0,50,100],"tickSize":{"condition":{"test":"datum.value%100==0","value":-6},"value":-3}}}}},
{"data":{"name":"bodies"},"transform":[{"filter":"datum.p=='b3'"}],"mark":{"type":"circle","size":38,"opacity":1,"color":"#377eb8"}},
{"data":{"name":"ringz"},"mark":{"type":"line","order":false,"stroke":"#a9a9a9","strokeWidth":3.5,"strokeDash":[11,5]}},
{"data":{"name":"text"},"transform":[{"filter":"datum.p=='b3'&&datum.k=='r'"}],"mark":{"type":"text","align":"left","baseline":"alphabetic"},"encoding":{"text":{"field":"t"}}},
{"data":{"name":"text"},"transform":[{"filter":"datum.p=='b3'&&datum.k=='i'"}],"mark":{"type":"text","align":"left","baseline":"alphabetic","fontStyle":"italic"},"encoding":{"text":{"field":"t"}}}
]},
{"width":27,"height":107,"view":{"stroke":null},"resolve":{"axis":{"x":"independent","y":"independent"}},"encoding":{"x":{"field":"x","type":"quantitative","scale":{"domain":[0,27]},"axis":null},"y":{"field":"y","type":"quantitative","scale":{"domain":[0.0223,2.4117]},"axis":null}},"layer":[
{"data":{"name":"bandsBot"},"mark":{"type":"rect"},"encoding":{"x":{"field":"a","type":"quantitative","scale":{"domain":[0,27]},"axis":null},"x2":{"field":"b"},"y":{"field":"lo","type":"quantitative","scale":{"domain":[0.0223,2.4117]},"axis":{"orient":"right","title":null,"values":[0.0223,0.3833,0.7667,1.15,1.5333,1.9167,2.3],"labelExpr":"['0.0','0.4','0.8','1.2','1.6','2.0','2.3'][round(datum.value/0.38333)]","labelFontSize":16,"labelPadding":9,"tickSize":-6}},"y2":{"field":"hi"},"fill":{"field":"l","type":"nominal","scale":{"domain":[0,1,2,3,4,5],"range":["#C40B22","#EC2F23","#FC6A2E","#FD9C3E","#FEBE5A","#FEE48D"]},"legend":null}}},
{"data":{"name":"outlineBot"},"mark":{"type":"line","order":false,"stroke":"#222","strokeWidth":1.3}}
]}
],"columns":5,"spacing":{"column":0,"row":0},"bounds":"flush","align":"each"}
